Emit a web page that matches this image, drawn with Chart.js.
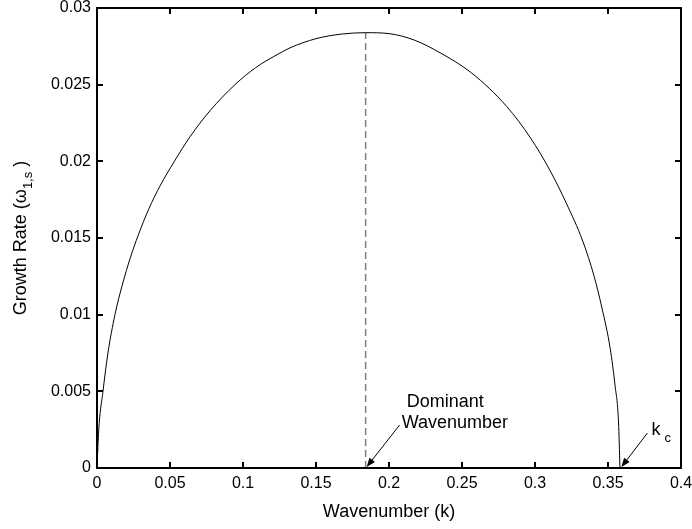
<!DOCTYPE html>
<html>
<head>
<meta charset="utf-8">
<script src="https://cdn.jsdelivr.net/npm/chart.js@4.4.0/dist/chart.umd.min.js"></script>
<style>
  html, body { margin: 0; padding: 0; background: #fff; }
  #wrap { width: 692px; height: 529px; }
</style>
</head>
<body>
<div id="wrap"><canvas id="growthChart" width="692" height="529"></canvas></div>
<script>
// valores
const wavenumbers = [0, 0.0012, 0.0041, 0.0075, 0.0123, 0.0175, 0.0228, 0.0283, 0.0355, 0.0432, 0.053, 0.0637,
    0.0774, 0.0945, 0.1085, 0.1219, 0.1322, 0.15, 0.1675, 0.184, 0.20, 0.2175, 0.235, 0.2566, 0.2806, 0.2971,
    0.3103, 0.3213, 0.3327, 0.3405, 0.3457, 0.3515, 0.3548, 0.3572, 0.3582];
const growthRates = [0, 0.0025, 0.005, 0.0075, 0.010, 0.0120, 0.0137, 0.0152, 0.0169, 0.0184, 0.0200, 0.0216,
    0.0233, 0.0250, 0.0261, 0.02688, 0.0274, 0.0280, 0.02830, 0.02839, 0.02833, 0.0279, 0.02708, 0.02576, 0.02358, 0.0215,
    0.0194, 0.0173, 0.0148, 0.0125, 0.0105, 0.0078, 0.0054, 0.0030, 0];
const xTicks = [0, 0.05, 0.1, 0.15, 0.2, 0.25, 0.3, 0.35, 0.4];
const yTicks = [0, 0.005, 0.01, 0.015, 0.02, 0.025, 0.03];
const dominantK = 0.184;
const dominantRate = 0.02839;
const criticalK = 0.3585;

const FONT = "'Liberation Sans', Arial, Helvetica, sans-serif";

function drawArrow(ctx, x1, y1, x2, y2) {
    // linha + cabeça preenchida na ponta (x2, y2)
    const ang = Math.atan2(y2 - y1, x2 - x1);
    const len = 9, half = 3.5;
    ctx.beginPath();
    ctx.moveTo(x1, y1);
    ctx.lineTo(x2 - Math.cos(ang) * len * 0.8, y2 - Math.sin(ang) * len * 0.8);
    ctx.stroke();
    ctx.beginPath();
    ctx.moveTo(x2, y2);
    ctx.lineTo(x2 - Math.cos(ang) * len - Math.sin(ang) * half, y2 - Math.sin(ang) * len + Math.cos(ang) * half);
    ctx.lineTo(x2 - Math.cos(ang) * len + Math.sin(ang) * half, y2 - Math.sin(ang) * len - Math.cos(ang) * half);
    ctx.closePath();
    ctx.fill();
}

// moldura estilo MATLAB com ticks para dentro nos quatro lados
const axesBox = {
    id: 'axesBox',
    afterDraw(chart) {
        const { ctx, chartArea: a, scales: { x, y } } = chart;
        const L = Math.round(a.left), R = Math.round(a.right);
        const T = Math.round(a.top), B = Math.round(a.bottom);
        const lw = 2, tl = 6;
        ctx.save();
        ctx.fillStyle = '#000';
        ctx.fillRect(L - 1, T - 1, R - L + lw, lw);
        ctx.fillRect(L - 1, B - 1, R - L + lw, lw);
        ctx.fillRect(L - 1, T - 1, lw, B - T + lw);
        ctx.fillRect(R - 1, T - 1, lw, B - T + lw);
        xTicks.forEach(v => {
            const px = Math.round(x.getPixelForValue(v));
            ctx.fillRect(px - 1, B - tl, lw, tl);
            ctx.fillRect(px - 1, T, lw, tl);
        });
        yTicks.forEach(v => {
            const py = Math.round(y.getPixelForValue(v));
            ctx.fillRect(L, py - 1, tl, lw);
            ctx.fillRect(R - tl, py - 1, tl, lw);
        });
        ctx.restore();
    }
};

const axisTitlesAndNotes = {
    id: 'axisTitlesAndNotes',
    afterDraw(chart) {
        const { ctx, chartArea: a, scales: { x, y } } = chart;
        ctx.save();
        ctx.fillStyle = '#000';
        ctx.strokeStyle = '#000';
        ctx.lineWidth = 1;
        ctx.font = `18px ${FONT}`;
        ctx.textAlign = 'center';
        ctx.textBaseline = 'alphabetic';
        ctx.fillText('Wavenumber (k)', (a.left + a.right) / 2, 517);

        ctx.save();
        ctx.translate(26, (a.top + a.bottom) / 2);
        ctx.rotate(-Math.PI / 2);
        const main = 'Growth Rate (\u03c9', sub = '1,s', tail = ' )';
        ctx.font = `18px ${FONT}`;
        const wMain = ctx.measureText(main).width, wTail = ctx.measureText(tail).width;
        ctx.font = `13px ${FONT}`;
        const wSub = ctx.measureText(sub).width;
        let sx = -(wMain + wSub + wTail) / 2;
        ctx.textAlign = 'left';
        ctx.font = `18px ${FONT}`;
        ctx.fillText(main, sx, 0);
        sx += wMain;
        ctx.font = `13px ${FONT}`;
        ctx.fillText(sub, sx, 6);
        sx += wSub;
        ctx.font = `18px ${FONT}`;
        ctx.fillText(tail, sx, 0);
        ctx.restore();

        // anotações
        const tipDx = x.getPixelForValue(dominantK) + 1;
        const tipY = y.getPixelForValue(0) - 1;
        drawArrow(ctx, tipDx + 33, tipY - 42, tipDx, tipY);
        ctx.textAlign = 'left';
        ctx.font = `18px ${FONT}`;
        ctx.fillText('Dominant', tipDx + 40, 407);
        ctx.fillText('Wavenumber', tipDx + 35, 428);

        const tipKx = x.getPixelForValue(criticalK) + 1;
        drawArrow(ctx, tipKx + 26, tipY - 34, tipKx, tipY);
        ctx.fillText('k', tipKx + 30, 435);
        ctx.font = `13px ${FONT}`;
        ctx.fillText('c', tipKx + 43, 442);
        ctx.restore();
    }
};

const curvePoints = wavenumbers.map((k, i) => ({ x: k, y: growthRates[i] }));

new Chart(document.getElementById('growthChart'), {
    type: 'line',
    data: {
        datasets: [{
            data: curvePoints,
            borderColor: '#000',
            borderWidth: 1,
            pointRadius: 0,
            cubicInterpolationMode: 'monotone',
            fill: false
        }, {
            data: [{ x: dominantK, y: 0 }, { x: dominantK, y: dominantRate }],
            borderColor: '#7f7f7f',
            borderWidth: 1.5,
            borderDash: [7, 4],
            pointRadius: 0,
            fill: false
        }]
    },
    options: {
        responsive: false,
        animation: false,
        devicePixelRatio: 1,
        layout: { padding: { left: 0, right: 11, top: 8, bottom: 0 } },
        plugins: { legend: { display: false }, tooltip: { enabled: false } },
        scales: {
            x: {
                type: 'linear',
                min: 0, max: 0.4,
                grid: { display: false, tickLength: 0 },
                border: { display: false },
                afterBuildTicks: s => { s.ticks = xTicks.map(v => ({ value: v })); },
                afterFit: s => { s.height = 61; s.paddingLeft = 0; s.paddingRight = 0; },
                ticks: {
                    color: '#000',
                    padding: 6,
                    maxRotation: 0,
                    font: { family: FONT, size: 16 },
                    callback: v => String(+v.toFixed(3))
                }
            },
            y: {
                min: 0, max: 0.03,
                grid: { display: false, tickLength: 0 },
                border: { display: false },
                afterBuildTicks: s => { s.ticks = yTicks.map(v => ({ value: v })); },
                afterFit: s => { s.width = 97; s.paddingTop = 0; s.paddingBottom = 0; },
                ticks: {
                    color: '#000',
                    padding: 6,
                    font: { family: FONT, size: 16 },
                    callback: v => String(+v.toFixed(3))
                }
            }
        }
    },
    plugins: [axesBox, axisTitlesAndNotes]
});
</script>
</body>
</html>
